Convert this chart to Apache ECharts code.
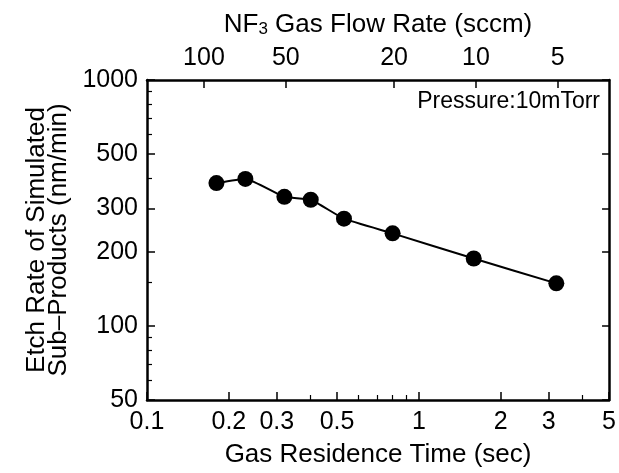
<!DOCTYPE html>
<html>
<head>
<meta charset="utf-8">
<script src="https://cdn.jsdelivr.net/npm/echarts@6/dist/echarts.min.js"></script>
<style>
html,body{margin:0;padding:0;background:#fff;}
#chart{width:619px;height:473px;}
</style>
</head>
<body>
<div id="chart"></div>
<script>
// Data
const timeSec = [0.18, 0.23, 0.32, 0.40, 0.53, 0.80, 1.59, 3.2];
const etchRate = [381, 396, 335, 326, 273, 238, 188, 149];

// Tick labels
const xTickLabels = [0.1, 0.2, 0.3, 0.5, 1, 2, 3, 5];
const xMinorTicks = [0.4, 0.6, 0.7, 0.8, 0.9, 4];
const yTickLabels = [50, 100, 200, 300, 500, 1000];
const yMinorTicks = [60, 70, 80, 90, 150, 400, 600, 700, 800, 900];
const flowTickLabels = [100, 50, 20, 10, 5];
const flowTimeProduct = 16.2; // sccm * sec : residence time = product / flow

const lg = Math.log10;
const FONT = 'Liberation Sans';
const fmtNum = v => {
  const n = Math.pow(10, v);
  return n < 1 ? String(Math.round(n * 10) / 10) : String(Math.round(n));
};

const xMin = lg(0.1), xMax = lg(5);
const yMin = lg(50), yMax = lg(1000);

const axisLineStyle = {show: true, onZero: false, lineStyle: {color: '#000', width: 2.5}};
const noLine = {show: false, onZero: false};

const chart = echarts.init(document.getElementById('chart'), null, {renderer: 'canvas'});
chart.setOption({
  animation: false,
  backgroundColor: '#fff',
  grid: {left: 147, right: 7, top: 80, bottom: 70, containLabel: false},
  xAxis: [
    {
      type: 'value', position: 'bottom', min: xMin, max: xMax,
      axisLine: axisLineStyle,
      splitLine: {show: false},
      axisTick: {inside: true, length: 8, lineStyle: {color: '#000', width: 1.5}, customValues: xTickLabels.map(lg)},
      axisLabel: {customValues: xTickLabels.map(lg), formatter: fmtNum, color: '#000', fontFamily: FONT, fontSize: 25, margin: 10},
      name: 'Gas Residence Time (sec)', nameLocation: 'middle', nameGap: 42,
      nameTextStyle: {color: '#000', fontFamily: FONT, fontSize: 26}
    },
    {
      type: 'value', position: 'bottom', min: xMin, max: xMax,
      axisLine: noLine,
      splitLine: {show: false},
      axisTick: {inside: true, length: 5, lineStyle: {color: '#000', width: 1.2}, customValues: xMinorTicks.map(lg)},
      axisLabel: {show: false, customValues: xMinorTicks.map(lg)}
    },
    {
      type: 'value', position: 'top', min: xMin, max: xMax,
      axisLine: axisLineStyle,
      splitLine: {show: false},
      axisTick: {inside: true, length: 8, lineStyle: {color: '#000', width: 1.5}, customValues: flowTickLabels.map(f => lg(flowTimeProduct / f))},
      axisLabel: {
        customValues: flowTickLabels.map(f => lg(flowTimeProduct / f)),
        formatter: v => String(Math.round(flowTimeProduct / Math.pow(10, v))),
        color: '#000', fontFamily: FONT, fontSize: 25, margin: 9
      },
      name: 'NF{sub|3} Gas Flow Rate (sccm)', nameLocation: 'middle', nameGap: 42,
      nameTextStyle: {
        color: '#000', fontFamily: FONT, fontSize: 26,
        rich: {sub: {fontSize: 17, verticalAlign: 'bottom', padding: [10, 0, 0, 0], fontFamily: FONT, color: '#000'}}
      }
    }
  ],
  yAxis: [
    {
      type: 'value', position: 'left', min: yMin, max: yMax,
      axisLine: axisLineStyle,
      splitLine: {show: false},
      axisTick: {inside: true, length: 8, lineStyle: {color: '#000', width: 1.5}, customValues: yTickLabels.map(lg)},
      axisLabel: {customValues: yTickLabels.map(lg), formatter: fmtNum, color: '#000', fontFamily: FONT, fontSize: 25, margin: 9},
      name: 'Etch Rate of Simulated\nSub\u2013Products (nm/min)', nameLocation: 'middle', nameGap: 72, nameRotate: 90,
      nameTextStyle: {color: '#000', fontFamily: FONT, fontSize: 26, lineHeight: 22}
    },
    {
      type: 'value', position: 'left', min: yMin, max: yMax,
      axisLine: noLine,
      splitLine: {show: false},
      axisTick: {inside: true, length: 5, lineStyle: {color: '#000', width: 1.2}, customValues: yMinorTicks.map(lg)},
      axisLabel: {show: false, customValues: yMinorTicks.map(lg)}
    },
    {
      type: 'value', position: 'right', min: yMin, max: yMax,
      axisLine: axisLineStyle,
      splitLine: {show: false},
      axisTick: {inside: true, length: 7, lineStyle: {color: '#000', width: 1.5}, customValues: yTickLabels.map(lg)},
      axisLabel: {show: false, customValues: yTickLabels.map(lg)}
    }
  ],
  graphic: [
    {
      type: 'text', right: 19, top: 90,
      style: {text: 'Pressure:10mTorr', font: '23px "Liberation Sans"', fill: '#000'}
    }
  ],
  series: [
    {
      type: 'line', xAxisIndex: 0, yAxisIndex: 0,
      data: timeSec.map((t, i) => [lg(t), lg(etchRate[i])]),
      smooth: 0.15,
      symbol: 'circle', symbolSize: 16,
      itemStyle: {color: '#000'},
      lineStyle: {color: '#000', width: 2}
    }
  ]
});
</script>
</body>
</html>
